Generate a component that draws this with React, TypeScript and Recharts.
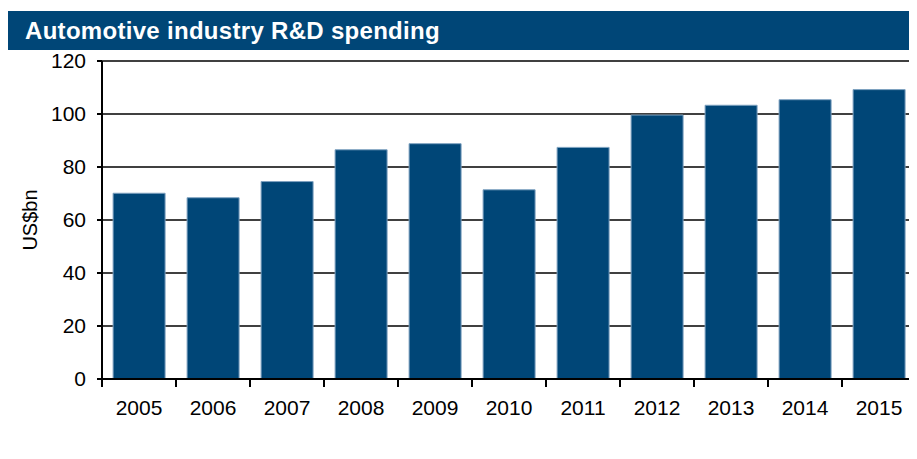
import React from "react";
import { BarChart, Bar, XAxis, YAxis, CartesianGrid } from "recharts";

const years = ["2005", "2006", "2007", "2008", "2009", "2010", "2011", "2012", "2013", "2014", "2015"];
const spending = [70.1, 68.4, 74.5, 86.5, 88.8, 71.4, 87.4, 99.6, 103.3, 105.4, 109.2];
const yTicks = [0, 20, 40, 60, 80, 100, 120];

const data = years.map((y, i) => ({ year: y, value: spending[i] }));

const FONT = "'Liberation Sans', Arial, Helvetica, sans-serif";
const BLUE = "#004677";
const CHART_W = 909;
const CHART_H = 409;
const Y_W = 94;
const M_RIGHT = 1;
const BAND = (CHART_W - Y_W - M_RIGHT) / years.length;
const TICK_FS = 21;

const XTick = (props: any) => {
  const { x, y, payload } = props;
  const axisY = y - 21;
  const bx = x - BAND / 2;
  return (
    <g>
      <line x1={bx} y1={axisY} x2={bx} y2={axisY + 8} stroke="#000" strokeWidth={2} />
      <text x={x} y={y} dy="0.71em" textAnchor="middle" fontSize={TICK_FS} fill="#000" fontFamily={FONT}>
        {payload.value}
      </text>
    </g>
  );
};

const YLabel = (props: any) => {
  const vb = props.viewBox;
  const cx = vb.x + 22;
  const cy = vb.y + vb.height / 2;
  return (
    <text
      x={cx}
      y={cy}
      transform={`rotate(-90, ${cx}, ${cy})`}
      textAnchor="middle"
      dominantBaseline="central"
      fontSize={20}
      fill="#000"
      fontFamily={FONT}
    >
      US$bn
    </text>
  );
};

export default function App() {
  return (
    <div style={{ paddingTop: 3, width: CHART_W, fontFamily: FONT }}>
      <div
        style={{
          background: BLUE,
          height: 39,
          width: CHART_W,
          color: "#fff",
          fontWeight: "bold",
          fontSize: 24,
          letterSpacing: 0.3,
          lineHeight: "39px",
          paddingLeft: 17,
          boxSizing: "border-box",
          fontFamily: FONT,
        }}
      >
        Automotive industry R&amp;D spending
      </div>
      <BarChart
        width={CHART_W}
        height={CHART_H}
        data={data}
        margin={{ top: 11, right: M_RIGHT, bottom: 50, left: 0 }}
        barCategoryGap="15%"
      >
        <CartesianGrid horizontal vertical={false} stroke="#000" strokeWidth={1.6} />
        <XAxis
          dataKey="year"
          height={30}
          axisLine={{ stroke: "#000", strokeWidth: 2 }}
          tickLine={false}
          tickSize={8}
          tickMargin={13}
          tick={<XTick />}
          interval={0}
        />
        <YAxis
          width={Y_W}
          domain={[0, 120]}
          ticks={yTicks}
          interval={0}
          axisLine={{ stroke: "#000", strokeWidth: 2 }}
          tickLine={{ stroke: "#000", strokeWidth: 2 }}
          tickSize={5}
          tickMargin={11}
          tick={{ fontSize: TICK_FS, fill: "#000", fontFamily: FONT }}
          label={<YLabel />}
        />
        <Bar dataKey="value" fill={BLUE} stroke="#7ea2c0" strokeWidth={1} isAnimationActive={false} />
      </BarChart>
    </div>
  );
}
